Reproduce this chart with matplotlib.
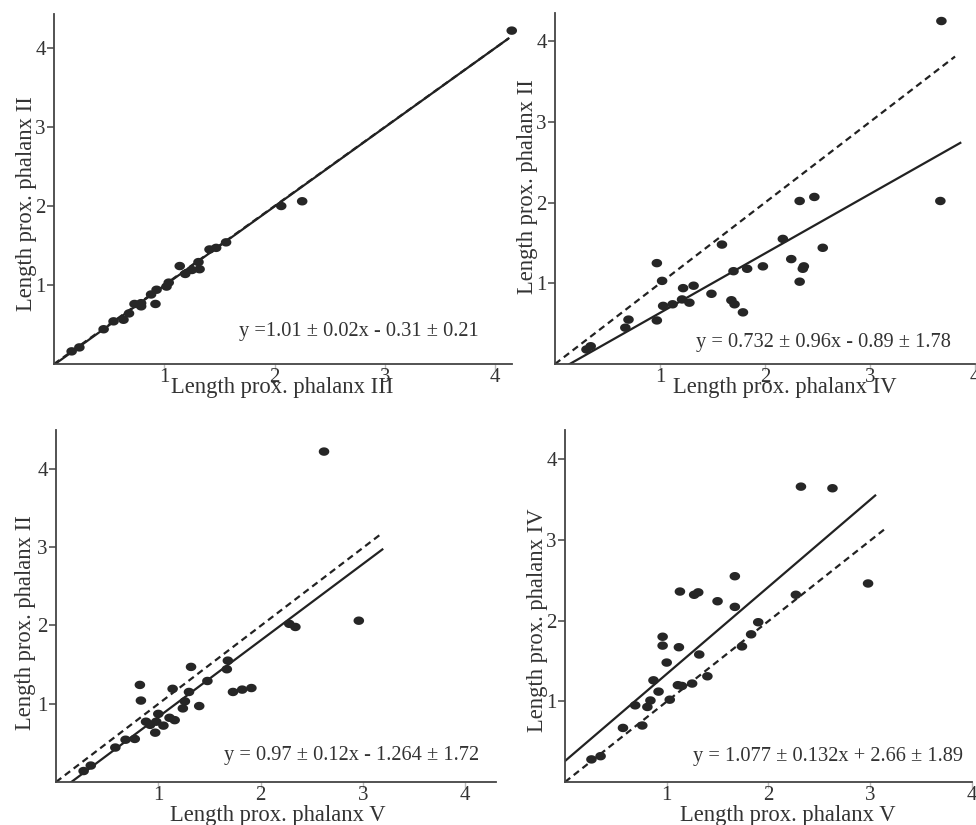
import matplotlib
matplotlib.use("Agg")
import matplotlib.pyplot as plt
import numpy as np
from matplotlib.path import Path

plt.rcParams['font.family'] = ['Liberation Serif', 'DejaVu Serif']

W, H = 976, 825
TXT = '#333333'
AX = '#444444'
DOT = '#262626'

# panel A: phalanx III (x) vs phalanx II (y)
a_x = [0.16, 0.23, 0.45, 0.54, 0.63, 0.68, 0.73, 0.79, 0.79, 0.88, 0.92, 0.93, 1.02, 1.04,
       1.14, 1.19, 1.25, 1.31, 1.32, 1.41, 1.47, 1.56, 2.06, 2.25, 4.15]
a_y = [0.16, 0.21, 0.44, 0.54, 0.56, 0.64, 0.76, 0.77, 0.73, 0.88, 0.76, 0.94, 0.98, 1.03,
       1.24, 1.14, 1.19, 1.29, 1.20, 1.45, 1.47, 1.54, 2.00, 2.06, 4.22]

# panel B: phalanx IV (x) vs phalanx II (y)
b_x = [0.30, 0.34, 0.67, 0.70, 0.97, 0.97, 1.02, 1.03, 1.12, 1.21, 1.22, 1.28, 1.32, 1.49,
       1.59, 1.68, 1.71, 1.70, 1.79, 1.83, 1.98, 2.17, 2.25, 2.33, 2.33, 2.36, 2.37, 2.47,
       2.55, 3.67, 3.68]
b_y = [0.18, 0.22, 0.45, 0.55, 0.54, 1.25, 1.03, 0.72, 0.74, 0.80, 0.94, 0.76, 0.97, 0.87,
       1.48, 0.79, 0.74, 1.15, 0.64, 1.18, 1.21, 1.55, 1.30, 1.02, 2.02, 1.18, 1.21, 2.07,
       1.44, 2.02, 4.25]

# panel C: phalanx V (x) vs phalanx II (y)
c_x = [0.27, 0.34, 0.58, 0.68, 0.77, 0.82, 0.83, 0.88, 0.92, 0.97, 0.98, 1.00, 1.05, 1.11,
       1.14, 1.16, 1.24, 1.26, 1.30, 1.32, 1.40, 1.48, 1.67, 1.68, 1.73, 1.82, 1.91, 2.28,
       2.34, 2.62, 2.96]
c_y = [0.14, 0.21, 0.44, 0.54, 0.55, 1.24, 1.04, 0.77, 0.73, 0.63, 0.77, 0.87, 0.72, 0.82,
       1.19, 0.79, 0.94, 1.03, 1.15, 1.47, 0.97, 1.29, 1.44, 1.55, 1.15, 1.18, 1.20, 2.02,
       1.98, 4.22, 2.06]

# panel D: phalanx V (x) vs phalanx IV (y)
d_x = [0.26, 0.35, 0.57, 0.69, 0.76, 0.81, 0.84, 0.87, 0.92, 0.96, 0.96, 1.00, 1.03, 1.11,
       1.13, 1.12, 1.15, 1.25, 1.27, 1.31, 1.32, 1.40, 1.50, 1.67, 1.67, 1.74, 1.83, 1.90,
       2.27, 2.32, 2.63, 2.98]
d_y = [0.28, 0.32, 0.67, 0.95, 0.70, 0.93, 1.01, 1.26, 1.12, 1.80, 1.69, 1.48, 1.02, 1.20,
       2.36, 1.67, 1.19, 1.22, 2.32, 2.35, 1.58, 1.31, 2.24, 2.55, 2.17, 1.68, 1.83, 1.98,
       2.32, 3.66, 3.64, 2.46]

# fitted (solid) and identity (dashed) line ends
a_fit = ([0.0, 4.12], [-0.01, 4.12])
a_id = ([0.0, 4.12], [0.0, 4.12])
b_fit = ([0.14, 3.86], [0.0, 2.74])
b_id = ([0.0, 3.81], [0.0, 3.81])
c_fit = ([0.15, 3.19], [0.0, 2.97])
c_id = ([0.0, 3.18], [0.0, 3.17])
d_fit = ([0.0, 3.05], [0.26, 3.55])
d_id = ([0.0, 3.16], [0.0, 3.15])

equations = ["y =1.01 \u00b1 0.02x - 0.31 \u00b1 0.21",
             "y = 0.732 \u00b1 0.96x - 0.89 \u00b1 1.78",
             "y = 0.97 \u00b1 0.12x - 1.264 \u00b1 1.72",
             "y = 1.077 \u00b1 0.132x + 2.66 \u00b1 1.89"]
xlabels = ["Length prox. phalanx III", "Length prox. phalanx IV",
           "Length prox. phalanx V", "Length prox. phalanx V"]
ylabels = ["Length prox. phalanx II", "Length prox. phalanx II",
           "Length prox. phalanx II", "Length prox. phalanx IV"]

# elliptical marker, a bit wider than tall
t = np.linspace(0, 2 * np.pi, 40)
ellipse = Path(np.column_stack([1.25 * np.cos(t), np.sin(t)]), closed=True)

# layout in pixels: origin x, origin y, px per unit x, px per unit y, xmax, ymax
layout = [
    (54, 364, 110.3, 79.0, 4.15, 4.43),
    (555, 364, 105.0, 80.7, 4.0, 4.35),
    (56, 782, 102.3, 78.3, 4.3, 4.49),
    (565, 782, 101.7, 80.7, 4.0, 4.36),
]
eq_pos = [(3.85, 0.41), (3.77, 0.27), (4.14, 0.34), (3.91, 0.31)]
xlab_pos = [(282, 388), (785, 388), (278, 816), (788, 816)]
ylab_pos = [(27, 204), (527, 187), (26, 623), (537, 620)]

data = [(a_x, a_y, a_fit, a_id), (b_x, b_y, b_fit, b_id),
        (c_x, c_y, c_fit, c_id), (d_x, d_y, d_fit, d_id)]

fig = plt.figure(figsize=(W / 100, H / 100), dpi=100)

for i, (xs, ys, fit, ident) in enumerate(data):
    x0, y0, xu, yu, xmax, ymax = layout[i]
    ax = fig.add_axes([x0 / W, 1 - y0 / H, xmax * xu / W, ymax * yu / H])
    ax.set_xlim(0, xmax)
    ax.set_ylim(0, ymax)
    ax.patch.set_alpha(0)

    ax.plot(ident[0], ident[1], color='#222222', lw=1.6, ls=(0, (3, 2)), zorder=2)
    ax.plot(fit[0], fit[1], color='#222222', lw=1.6, zorder=2)
    ax.scatter(xs, ys, marker=ellipse, s=58, color=DOT, edgecolors='none',
               zorder=3, clip_on=False)

    for s in ['top', 'right']:
        ax.spines[s].set_visible(False)
    for s in ['left', 'bottom']:
        ax.spines[s].set_color(AX)
        ax.spines[s].set_linewidth(1.3)

    ax.set_xticks([1, 2, 3, 4])
    ax.set_yticks([1, 2, 3, 4])
    ax.tick_params(axis='y', direction='out', length=5, width=1.1, color=AX,
                   labelsize=15, labelcolor=TXT, pad=1)
    ax.tick_params(axis='x', direction='out', length=4, width=1.0, color='#bbbbbb',
                   labelsize=15, labelcolor=TXT, pad=-1)

    ax.text(eq_pos[i][0], eq_pos[i][1], equations[i], ha='right', va='center',
            fontsize=14.7, color=TXT)

    fig.text(xlab_pos[i][0] / W, 1 - xlab_pos[i][1] / H, xlabels[i],
             ha='center', va='center', fontsize=16.3, color=TXT)
    fig.text(ylab_pos[i][0] / W, 1 - ylab_pos[i][1] / H, ylabels[i],
             ha='center', va='center', rotation=90, fontsize=16.3, color=TXT)

fig.savefig("out.png", dpi=100)
